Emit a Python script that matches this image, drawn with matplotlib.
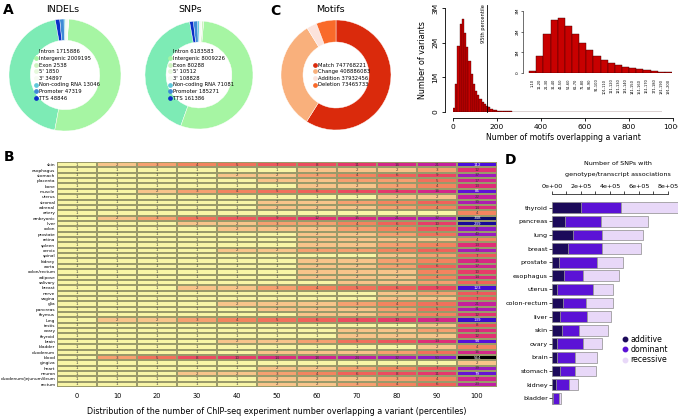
import numpy as np
import matplotlib
matplotlib.use('Agg')
import matplotlib.pyplot as plt
from matplotlib.colors import LinearSegmentedColormap, LogNorm
from matplotlib.lines import Line2D

# ---------------- data ----------------
ann_labels = ["Intron", "Intergenic", "Exon", "5'", "3'", "Non-coding RNA", "Promoter", "TTS"]
indel_counts = [1715886, 2009195, 2538, 1850, 34897, 13046, 47319, 48846]
snp_counts = [6183583, 8009226, 80288, 10512, 108828, 71081, 185271, 161386]
ann_colors = ["#7DEBB5", "#A6F5A3", "#CDF3C0", "#E6F9DC", "#F6FCF2", "#5EC8DA", "#3D8BD6", "#0A2FC8"]

motif_labels = ["Match", "Change", "Addition", "Deletion"]
motif_counts = [747768221, 408886083, 37932456, 73465733]
motif_colors = ["#DA2A0C", "#F9B07C", "#FCE3DC", "#F96A2A"]

# histogram: counts (millions) per 10-motif bin
inset_counts = [0.11, 0.80, 1.90, 2.55, 2.68, 2.29, 1.87, 1.47, 1.10, 0.81,
                0.61, 0.48, 0.37, 0.29, 0.23, 0.18, 0.13, 0.10, 0.07, 0.05]
tail_counts = [0.040, 0.034, 0.029, 0.025, 0.021, 0.018, 0.016, 0.014, 0.012, 0.010,
               0.009, 0.008, 0.007, 0.006, 0.005, 0.0045, 0.004, 0.0035, 0.003, 0.0028,
               0.0025, 0.0022, 0.002, 0.0018, 0.0016, 0.0015, 0.0014, 0.0013, 0.0012, 0.0011,
               0.0010, 0.0010, 0.0009, 0.0009, 0.0008, 0.0008, 0.0007, 0.0007, 0.0006, 0.0006,
               0.0006, 0.0005, 0.0005, 0.0005, 0.0004, 0.0004, 0.0004, 0.0004, 0.0003, 0.0003,
               0.0003, 0.0003, 0.0003, 0.0002, 0.0002, 0.0002, 0.0002, 0.0002, 0.0002, 0.0002,
               0.0001, 0.0001, 0.0001, 0.0001, 0.0001, 0.0001, 0.0001, 0.0001, 0.0001, 0.0001,
               0.0001, 0.0001, 0.0001, 0.0001, 0.0001]
bin_width = 10
p95 = 155
inset_labels = ["1-10", "11-20", "21-30", "31-40", "41-50", "51-60", "61-70", "71-80", "81-90",
                "91-100", "101-110", "111-120", "121-130", "131-140", "141-150", "151-160",
                "161-170", "171-180", "181-190", "191-200"]
hist_xticks = [0, 200, 400, 600, 800, 1000]
hist_yticks = [0, 1, 2, 3]
hist_yticklabels = ["0", "1M", "2M", "3M"]

# heatmap
tissues = ["skin", "esophagus", "stomach", "placenta", "bone", "muscle", "uterus", "stromal",
           "adrenal", "artery", "embryonic", "liver", "colon", "prostate", "retina", "spleen",
           "cervix", "spinal", "kidney", "aorta", "colon/rectum", "adipose", "salivary", "breast",
           "nerve", "vagina", "glia", "pancreas", "thymus", "lung", "testis", "ovary", "thyroid",
           "brain", "bladder", "duodenum", "blood", "gingiva", "heart", "neuron",
           "duodenum/jejunum/ileum", "rectum"]
percentiles = [0, 10, 20, 30, 40, 50, 60, 70, 80, 90, 100]
heat = [
    [1, 2, 3, 4, 5, 7, 8, 11, 16, 21, 112],
    [1, 1, 1, 1, 1, 1, 2, 2, 2, 3, 12],
    [1, 1, 1, 1, 2, 2, 3, 4, 6, 9, 37],
    [1, 1, 1, 1, 1, 2, 2, 3, 3, 5, 17],
    [1, 1, 1, 1, 1, 1, 2, 2, 3, 4, 13],
    [1, 1, 2, 3, 4, 5, 6, 8, 11, 16, 85],
    [1, 1, 1, 1, 1, 1, 1, 1, 2, 2, 22],
    [1, 1, 1, 1, 1, 2, 2, 3, 4, 6, 30],
    [1, 1, 1, 1, 1, 2, 2, 2, 3, 4, 14],
    [1, 1, 1, 1, 1, 1, 1, 1, 1, 1, 4],
    [1, 2, 3, 5, 7, 9, 12, 15, 21, 32, 348],
    [1, 1, 1, 2, 2, 3, 3, 4, 6, 10, 239],
    [1, 1, 1, 1, 2, 2, 2, 3, 4, 7, 45],
    [1, 1, 1, 1, 1, 1, 2, 2, 3, 5, 40],
    [1, 1, 1, 1, 1, 1, 2, 2, 2, 2, 4],
    [1, 1, 1, 1, 1, 1, 2, 2, 3, 4, 13],
    [1, 1, 1, 1, 2, 2, 3, 3, 4, 6, 33],
    [1, 1, 1, 1, 1, 1, 1, 1, 2, 3, 7],
    [1, 1, 1, 1, 1, 1, 2, 2, 3, 4, 15],
    [1, 1, 1, 1, 1, 1, 2, 2, 3, 6, 17],
    [1, 1, 1, 1, 1, 1, 2, 2, 2, 4, 10],
    [1, 1, 1, 1, 1, 1, 2, 2, 2, 4, 14],
    [1, 1, 1, 1, 1, 1, 1, 2, 2, 3, 6],
    [1, 1, 1, 2, 2, 3, 4, 5, 6, 9, 123],
    [1, 1, 1, 1, 1, 1, 1, 1, 2, 3, 7],
    [1, 1, 1, 1, 1, 1, 1, 1, 2, 2, 7],
    [1, 1, 1, 1, 2, 2, 2, 3, 4, 5, 21],
    [1, 1, 1, 1, 1, 2, 2, 2, 3, 5, 31],
    [1, 1, 1, 1, 1, 1, 2, 2, 3, 4, 12],
    [1, 2, 2, 3, 4, 5, 6, 8, 10, 16, 139],
    [1, 1, 1, 1, 1, 1, 1, 1, 1, 2, 8],
    [1, 1, 1, 1, 1, 1, 1, 2, 2, 3, 14],
    [1, 1, 1, 1, 1, 1, 1, 2, 2, 2, 12],
    [1, 1, 1, 1, 2, 2, 3, 5, 7, 13, 94],
    [1, 1, 1, 1, 1, 1, 1, 1, 1, 2, 4],
    [1, 1, 1, 1, 1, 2, 2, 2, 3, 5, 16],
    [1, 3, 5, 8, 10, 14, 18, 24, 32, 50, 564],
    [1, 1, 1, 1, 1, 1, 1, 1, 1, 1, 2],
    [1, 1, 1, 1, 1, 2, 2, 3, 4, 7, 39],
    [1, 1, 1, 2, 2, 3, 4, 6, 8, 11, 79],
    [1, 1, 1, 1, 1, 2, 2, 2, 3, 4, 17],
    [1, 1, 1, 1, 1, 2, 2, 3, 4, 6, 23],
]

# panel D
d_tissues = ["thyroid", "pancreas", "lung", "breast", "prostate", "esophagus", "uterus",
             "colon-rectum", "liver", "skin", "ovary", "brain", "stomach", "kidney", "bladder"]
d_additive = [2.00e5, 0.89e5, 1.44e5, 1.11e5, 0.49e5, 0.82e5, 0.36e5, 0.78e5, 0.58e5, 0.71e5,
              0.36e5, 0.36e5, 0.53e5, 0.29e5, 0.09e5]
d_dominant = [2.73e5, 2.51e5, 2.03e5, 2.36e5, 2.58e5, 1.31e5, 2.44e5, 1.58e5, 1.86e5, 1.13e5,
              1.75e5, 1.26e5, 1.09e5, 0.91e5, 0.38e5]
d_recessive = [4.10e5, 3.22e5, 2.82e5, 2.66e5, 1.82e5, 2.51e5, 1.38e5, 1.82e5, 1.65e5, 2.03e5,
               1.33e5, 1.49e5, 1.42e5, 0.58e5, 0.17e5]
d_labels = ["additive", "dominant", "recessive"]
d_colors = ["#1C0A5A", "#5B12D6", "#E8D8F8"]
d_xticks = [0, 1e5, 2e5, 3e5, 4e5, 5e5, 6e5, 7e5, 8e5]
d_xticklabels = ["0e+00", "", "2e+05", "", "4e+05", "", "6e+05", "", "8e+05"]

# ---------------- figure ----------------
W, H = 678, 416
plt.rcParams['font.family'] = 'DejaVu Sans'
fig = plt.figure(figsize=(W / 100, H / 100), dpi=100)


def rect(x0, y0, x1, y1):
    return [x0 / W, 1 - y1 / H, (x1 - x0) / W, (y1 - y0) / H]


def ftext(x, y, s, **kw):
    fig.text(x / W, 1 - y / H, s, **kw)


def donut(r, counts, labels, colors, start, cc, width, lx=0.5):
    ax = fig.add_axes(rect(*r))
    ax.pie(counts, colors=colors, startangle=start, counterclock=cc, radius=1,
           wedgeprops=dict(width=width, edgecolor='white', linewidth=0.3))
    ax.set_xlim(-1, 1)
    ax.set_ylim(-1, 1)
    ax.set_aspect('equal')
    ax.axis('off')
    handles = [Line2D([], [], marker='o', ls='', color=c, markersize=2.4) for c in colors]
    ax.legend(handles, [f"{l} {c}" for l, c in zip(labels, counts)], loc='center',
              bbox_to_anchor=(lx, 0.5), frameon=False, fontsize=3.8, handlelength=0.6,
              handletextpad=0.3, labelspacing=0.3, borderpad=0)
    return ax


# Panel A
ftext(3, 3, "A", fontsize=10, fontweight='bold', va='top')
ftext(63, 10, "INDELs", fontsize=6.8, ha='center', va='center')
ftext(190, 10, "SNPs", fontsize=6.8, ha='center', va='center')
donut((9, 19, 121, 131), indel_counts, ann_labels, ann_colors, 100, True, 0.38, 0.52)
donut((145, 21, 253, 129), snp_counts, ann_labels, ann_colors, 100, True, 0.39, 0.52)

# Panel C
ftext(270, 4, "C", fontsize=10, fontweight='bold', va='top')
ftext(330, 10, "Motifs", fontsize=6.8, ha='center', va='center')
donut((281, 20, 391, 130), motif_counts, motif_labels, motif_colors, 90, False, 0.40, 0.55)

# Histogram
hist_counts = inset_counts + tail_counts
axh = fig.add_axes(rect(453, 8, 673, 112))
edges = np.arange(len(hist_counts)) * bin_width
axh.bar(edges, hist_counts, width=bin_width, align='edge', color='#C80000',
        edgecolor='#3a0000', linewidth=0.25)
axh.set_xlim(0, 1000)
axh.set_ylim(0, 3)
for s in ['top', 'right']:
    axh.spines[s].set_visible(False)
axh.spines['left'].set_position(('outward', 6))
axh.spines['bottom'].set_position(('outward', 4))
axh.spines['left'].set_linewidth(0.6)
axh.spines['bottom'].set_linewidth(0.6)
axh.set_xticks(hist_xticks)
axh.set_xticklabels([str(t) for t in hist_xticks], fontsize=5.4)
axh.set_yticks(hist_yticks)
axh.set_yticklabels(hist_yticklabels, fontsize=5.4, rotation=90, va='center')
axh.tick_params(length=2.5, width=0.6, pad=2)
axh.set_xlabel("Number of motifs overlapping a variant", fontsize=5.6, labelpad=2)
axh.set_ylabel("Number of variants", fontsize=5.8, labelpad=4)
axh.plot([p95, p95], [0, 3.1], color='black', lw=0.6, clip_on=False)
axh.text(p95 - 6, 3.1, "95th percentile", rotation=90, fontsize=3.6, ha='right', va='top')

# Inset
axi = fig.add_axes(rect(527, 11, 672, 73))
axi.bar(np.arange(len(inset_counts)), inset_counts, width=1, align='edge', color='#C80000',
        edgecolor='#3a0000', linewidth=0.3)
axi.set_xlim(-0.3, len(inset_counts))
axi.set_ylim(0, 3)
for s in ['top', 'right', 'bottom']:
    axi.spines[s].set_visible(False)
axi.spines['left'].set_position(('outward', 3))
axi.spines['left'].set_linewidth(0.4)
axi.set_yticks(hist_yticks)
axi.set_yticklabels(hist_yticklabels, fontsize=3.2, rotation=90, va='center')
axi.set_xticks(np.arange(len(inset_counts)) + 0.5)
axi.set_xticklabels(inset_labels, fontsize=2.6, rotation=90)
axi.tick_params(axis='y', length=1.5, width=0.4, pad=1)
axi.tick_params(axis='x', length=0, pad=4)

# Panel B heatmap
ftext(4, 157, "B", fontsize=10, fontweight='bold', va='center')
vals = np.array(heat, dtype=float)
stops = [(1, "#F8F5A6"), (2, "#F8C48A"), (3, "#F6A070"), (4, "#F3845F"), (6, "#F0625A"),
         (9, "#EB4462"), (13, "#DF2D78"), (20, "#C9219A"), (35, "#A41CBA"), (60, "#7A16CF"),
         (110, "#4E0DDD"), (200, "#2008B0"), (350, "#0A0A6E"), (564, "#000000")]
vmax = vals.max()
cmap = LinearSegmentedColormap.from_list(
    "heat", [(np.log(v) / np.log(vmax), c) for v, c in stops])
axb = fig.add_axes(rect(57, 162, 497, 387))
axb.pcolormesh(np.arange(len(percentiles) + 1) - 0.5, np.arange(len(tissues) + 1) - 0.5, vals,
               cmap=cmap, norm=LogNorm(1, vmax), edgecolors='#9a9a6a', linewidth=0.15)
axb.set_xlim(-0.5, len(percentiles) - 0.5)
axb.set_ylim(len(tissues) - 0.5, -0.5)
for i in range(vals.shape[0]):
    for j in range(vals.shape[1]):
        v = int(vals[i, j])
        axb.text(j, i, str(v), ha='center', va='center', fontsize=2.9,
                 color='white' if v >= 70 else '#3a3a3a')
axb.set_yticks(range(len(tissues)))
axb.set_yticklabels(tissues, fontsize=3.1)
axb.set_xticks(range(len(percentiles)))
axb.set_xticklabels([str(p) for p in percentiles], fontsize=4.8)
axb.tick_params(axis='y', length=0, pad=1.2)
axb.tick_params(axis='x', length=0, pad=4)
axb.set_xlabel("Distribution of the number of ChIP-seq experiment number overlapping a variant (percentiles)",
               fontsize=5.8, labelpad=6)
for s in axb.spines.values():
    s.set_visible(False)

# Panel D
ftext(505, 160, "D", fontsize=10, fontweight='bold', va='center')
ftext(618, 163, "Number of SNPs with", fontsize=4.6, ha='center', va='center')
ftext(618, 174, "genotype/transcript associations", fontsize=4.6, ha='center', va='center')
axd = fig.add_axes(rect(552, 201, 678, 405))
y = np.arange(len(d_tissues))
left = np.zeros(len(d_tissues))
for vals_d, c in zip([d_additive, d_dominant, d_recessive], d_colors):
    axd.barh(y, vals_d, left=left, height=0.8, color=c, edgecolor='#8c8c8c', linewidth=0.5)
    left = left + np.array(vals_d)
axd.set_xlim(0, 8.69e5)
axd.set_ylim(len(d_tissues) - 0.5, -0.5)
axd.xaxis.tick_top()
for s in ['bottom', 'right', 'left']:
    axd.spines[s].set_visible(False)
axd.spines['top'].set_position(('outward', 5))
axd.spines['top'].set_bounds(0, 8e5)
axd.spines['top'].set_linewidth(0.5)
axd.set_xticks(d_xticks)
axd.set_xticklabels(d_xticklabels, fontsize=4.6)
axd.set_yticks(y)
axd.set_yticklabels(d_tissues, fontsize=4.6)
axd.tick_params(axis='x', length=2, width=0.5, pad=1.5)
axd.tick_params(axis='y', length=2, width=0.5, pad=1)
handles = [Line2D([], [], marker='o', ls='', color=c, markersize=3.2) for c in d_colors]
fig.legend(handles, d_labels, loc='upper left', bbox_to_anchor=(622 / W, 1 - 335 / H),
           frameon=False, fontsize=5.6, handlelength=0.8, handletextpad=0.3,
           labelspacing=0.15, borderpad=0, borderaxespad=0)

fig.savefig("out.png", dpi=100)
